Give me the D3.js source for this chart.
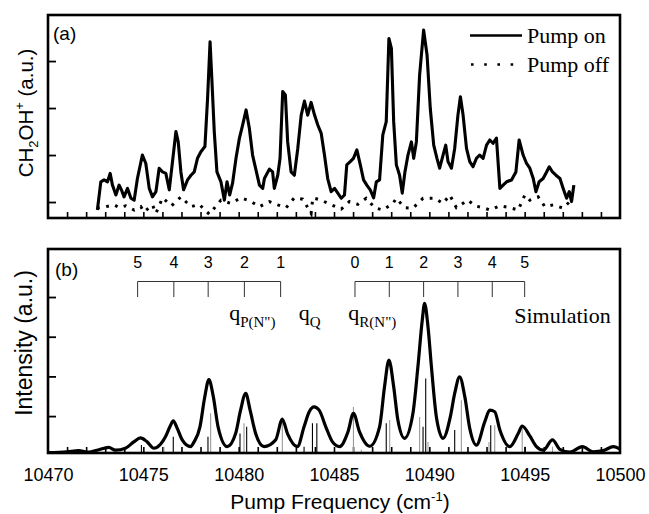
<!DOCTYPE html>
<html><head><meta charset="utf-8">
<script src="https://cdn.jsdelivr.net/npm/d3@7"></script>
<style>body{margin:0;background:#fff}svg{display:block}</style>
</head><body><svg id="c" width="649" height="514"></svg>
<script>
// ---------- DATA ----------
const xTickLabels = [10470,10475,10480,10485,10490,10495,10500];
const xMinorTicks = d3.range(10471,10500);
const yTopTicks = [0,1,2,3];
const yBotTicks = [1,2,3,4];

// experimental, pump on  [frequency, signal]
const pumpOn = [[10472.59,-0.17],[10472.77,0.43],[10472.94,0.47],[10473.12,0.43],[10473.26,0.61],[10473.38,0.36],[10473.56,0.15],[10473.73,0.36],[10473.85,0.26],[10473.99,0.11],[10474.17,0.29],[10474.35,0.08],[10474.52,0.04],[10474.69,0.50],[10474.95,1.00],[10475.13,0.82],[10475.31,0.29],[10475.48,0.11],[10475.66,0.22],[10475.83,0.72],[10476.01,0.64],[10476.18,0.61],[10476.36,0.26],[10476.53,0.86],[10476.71,1.50],[10476.83,1.28],[10476.97,0.64],[10477.11,0.26],[10477.32,0.47],[10477.50,0.57],[10477.67,0.64],[10477.84,0.93],[10478.02,1.07],[10478.23,1.18],[10478.37,2.21],[10478.50,3.41],[10478.60,2.56],[10478.72,1.50],[10478.86,0.64],[10479.07,0.43],[10479.25,0.04],[10479.39,0.43],[10479.53,0.15],[10479.68,0.40],[10479.86,0.93],[10480.04,1.36],[10480.21,1.64],[10480.39,1.96],[10480.56,1.57],[10480.73,1.00],[10480.91,0.68],[10481.09,0.36],[10481.26,0.29],[10481.35,0.50],[10481.61,0.70],[10481.78,0.64],[10481.87,0.29],[10482.05,0.57],[10482.17,0.93],[10482.31,2.35],[10482.45,2.28],[10482.57,1.28],[10482.75,0.64],[10482.92,0.57],[10483.10,1.14],[10483.28,1.85],[10483.45,2.15],[10483.62,1.85],[10483.80,2.12],[10483.98,1.85],[10484.15,1.64],[10484.33,1.46],[10484.50,1.00],[10484.67,0.50],[10484.85,0.22],[10485.03,0.29],[10485.20,0.19],[10485.38,0.08],[10485.55,0.15],[10485.67,0.79],[10485.85,0.86],[10486.02,0.93],[10486.20,1.11],[10486.38,0.79],[10486.55,0.47],[10486.72,0.36],[10486.90,0.26],[10487.08,0.09],[10487.22,0.43],[10487.39,0.47],[10487.56,1.43],[10487.74,1.71],[10487.88,3.48],[10488.01,3.27],[10488.13,1.71],[10488.27,0.79],[10488.44,0.57],[10488.58,0.19],[10488.72,0.64],[10488.88,1.00],[10489.06,1.28],[10489.18,0.93],[10489.32,1.28],[10489.49,2.70],[10489.70,3.66],[10489.88,3.13],[10490.05,1.99],[10490.23,1.21],[10490.40,0.93],[10490.54,0.72],[10490.72,1.00],[10490.86,1.21],[10490.98,0.86],[10491.16,0.72],[10491.33,1.14],[10491.50,1.85],[10491.63,2.24],[10491.77,1.85],[10491.95,1.14],[10492.12,0.86],[10492.29,0.75],[10492.47,0.93],[10492.64,1.00],[10492.82,0.93],[10493.00,1.21],[10493.17,1.32],[10493.34,1.25],[10493.52,1.36],[10493.70,0.29],[10493.87,0.36],[10494.05,0.43],[10494.31,0.47],[10494.54,0.64],[10494.71,1.32],[10494.92,1.00],[10495.10,0.82],[10495.27,0.72],[10495.45,0.50],[10495.59,0.22],[10495.76,0.43],[10495.97,0.50],[10496.15,0.64],[10496.29,0.75],[10496.46,0.64],[10496.64,0.57],[10496.85,0.50],[10497.02,0.29],[10497.20,0.08],[10497.34,0.22],[10497.46,0.01],[10497.58,0.36]];

// experimental, pump off
const pumpOff = [[10472.57,-0.13],[10473.03,-0.10],[10473.47,-0.06],[10473.73,-0.12],[10474.08,-0.08],[10474.52,-0.17],[10474.87,-0.10],[10475.04,-0.21],[10475.48,-0.06],[10475.66,-0.24],[10476.01,0.09],[10476.48,-0.08],[10476.97,0.11],[10477.50,-0.10],[10477.93,-0.05],[10478.46,-0.26],[10479.07,0.04],[10479.60,-0.03],[10480.12,0.09],[10480.65,0.01],[10481.09,-0.10],[10481.61,0.01],[10482.05,-0.06],[10482.49,-0.12],[10482.92,0.09],[10483.36,0.06],[10483.80,-0.24],[10483.89,0.09],[10484.33,0.04],[10484.85,-0.06],[10485.38,-0.15],[10485.81,0.01],[10486.25,-0.05],[10486.69,0.08],[10487.13,-0.12],[10487.56,-0.17],[10488.09,-0.03],[10488.27,0.08],[10488.70,-0.12],[10489.14,-0.13],[10489.67,0.08],[10490.28,0.08],[10490.72,-0.03],[10491.07,0.15],[10491.42,-0.12],[10492.03,0.04],[10492.38,-0.08],[10492.82,-0.12],[10493.17,-0.17],[10493.70,-0.08],[10494.22,-0.12],[10494.66,-0.17],[10495.01,0.15],[10495.27,0.04],[10495.71,0.11],[10496.06,-0.10],[10496.50,-0.06],[10497.02,-0.13],[10497.37,0.01]];

// simulated spectrum (envelope)
const simulation = [[10470.00,0.08],[10471.00,0.10],[10471.61,0.13],[10472.05,0.09],[10472.57,0.14],[10473.19,0.21],[10473.54,0.14],[10474.06,0.19],[10474.50,0.35],[10474.85,0.45],[10475.20,0.35],[10475.55,0.19],[10475.90,0.29],[10476.16,0.48],[10476.43,0.77],[10476.57,0.88],[10476.78,0.69],[10477.04,0.40],[10477.48,0.23],[10477.66,0.35],[10477.97,0.73],[10478.21,1.45],[10478.44,1.92],[10478.67,1.49],[10478.92,0.73],[10479.40,0.23],[10479.84,0.56],[10480.10,1.15],[10480.37,1.57],[10480.60,1.15],[10480.89,0.56],[10481.33,0.23],[10481.94,0.40],[10482.29,0.92],[10482.56,0.56],[10483.08,0.23],[10483.43,0.73],[10483.70,1.11],[10483.96,1.23],[10484.22,1.15],[10484.57,0.73],[10484.92,0.35],[10485.29,0.23],[10485.73,0.60],[10486.02,1.07],[10486.34,0.60],[10486.87,0.24],[10487.39,0.73],[10487.65,1.74],[10487.88,2.41],[10488.13,1.74],[10488.35,0.90],[10488.70,0.44],[10489.14,1.07],[10489.40,2.24],[10489.63,3.42],[10489.75,3.84],[10489.93,3.25],[10490.11,2.24],[10490.37,0.98],[10490.72,0.44],[10491.10,0.98],[10491.33,1.57],[10491.59,1.99],[10491.86,1.49],[10492.12,0.69],[10492.47,0.27],[10492.91,0.86],[10493.17,1.15],[10493.43,1.11],[10493.70,0.65],[10494.22,0.23],[10494.66,0.56],[10494.87,0.75],[10495.27,0.50],[10495.62,0.23],[10495.97,0.14],[10496.46,0.40],[10496.85,0.16],[10497.37,0.09],[10498.02,0.23],[10498.60,0.10],[10499.12,0.13],[10499.65,0.23],[10500.00,0.17]];

// stick spectrum
const sticksBlack = [[10474.90,0.27],[10476.57,0.48],[10478.39,0.48],[10480.07,0.56],[10480.42,0.73],[10483.43,0.23],[10483.87,0.82],[10484.10,0.82],[10487.74,0.82],[10489.67,0.73],[10489.81,1.95],[10491.33,0.65],[10493.22,0.77],[10495.01,0.23]];
const sticksGray = [[10476.08,0.23],[10478.53,1.07],[10480.28,0.82],[10482.29,0.98],[10486.02,1.23],[10486.43,0.15],[10487.92,0.90],[10489.49,0.98],[10489.93,0.35],[10491.68,1.40],[10493.13,0.35],[10493.43,0.77],[10494.87,0.73],[10496.46,0.23]];

// rotational assignment combs
const pBranchPos = [10474.7,10476.6,10478.4,10480.3,10482.2];
const pBranchLabels = ["5","4","3","2","1"];
const rBranchPos = [10486.1,10487.9,10489.7,10491.5,10493.3,10495.0];
const rBranchLabels = ["0","1","2","3","4","5"];

// ---------- CHART ----------
const svg = d3.select("#c");
const L = 48, R = 620;
const topP = {t:15, b:218}, botP = {t:249, b:453};
const x = d3.scaleLinear().domain([10470,10500]).range([L,R]);
const yTop = d3.scaleLinear().domain([-0.34,3.98]).range([topP.b, topP.t]);
const yBot = d3.scaleLinear().domain([0.07,5.21]).range([botP.b, botP.t]);
const sans = "'Liberation Sans', Arial, Helvetica, sans-serif";
const serif = "'Liberation Serif', 'Times New Roman', Times, serif";

function clip(id, p){
  svg.append("clipPath").attr("id", id).append("rect")
    .attr("x", L).attr("y", p.t).attr("width", R-L).attr("height", p.b-p.t);
}
clip("cTop", topP); clip("cBot", botP);

function ticks(p, yScale, yt){
  const g = svg.append("g").attr("transform", `translate(0,${p.b})`)
    .call(d3.axisBottom(x).tickValues(xMinorTicks).tickSize(-6).tickFormat(""));
  g.select(".domain").remove();
  g.selectAll("line").attr("stroke","#000").attr("stroke-width",1.6);
  const gy = svg.append("g").attr("transform", `translate(${L},0)`)
    .call(d3.axisLeft(yScale).tickValues(yt).tickSize(-8).tickFormat(""));
  gy.select(".domain").remove();
  gy.selectAll("line").attr("stroke","#000").attr("stroke-width",1.8);
}

// ----- top panel -----
ticks(topP, yTop, yTopTicks);
const lineTop = d3.line().x(d=>x(d[0])).y(d=>yTop(d[1]));
svg.append("path").datum(pumpOff).attr("clip-path","url(#cTop)")
  .attr("d", lineTop).attr("fill","none").attr("stroke","#000")
  .attr("stroke-width",3).attr("stroke-dasharray","2.8,6.5");
svg.append("path").datum(pumpOn).attr("clip-path","url(#cTop)")
  .attr("d", lineTop).attr("fill","none").attr("stroke","#000")
  .attr("stroke-width",3.1).attr("stroke-linejoin","round");
svg.append("rect").attr("x",L).attr("y",topP.t).attr("width",R-L).attr("height",topP.b-topP.t)
  .attr("fill","none").attr("stroke","#000").attr("stroke-width",2.6);

svg.append("text").attr("x",53).attr("y",40).attr("font-family",sans).attr("font-size",19).text("(a)");

// legend
svg.append("line").attr("x1",470).attr("x2",522).attr("y1",35.5).attr("y2",35.5)
  .attr("stroke","#000").attr("stroke-width",2.6);
svg.append("text").attr("x",527).attr("y",43).attr("font-family",serif).attr("font-size",22).text("Pump on");
svg.append("line").attr("x1",471).attr("x2",522).attr("y1",64.5).attr("y2",64.5)
  .attr("stroke","#000").attr("stroke-width",2.6).attr("stroke-dasharray","2.6,10.6");
svg.append("text").attr("x",527).attr("y",71.5).attr("font-family",serif).attr("font-size",22).text("Pump off");

// y title top
const tt = svg.append("text").attr("transform","translate(33,113) rotate(-90)")
  .attr("text-anchor","middle").attr("font-family",sans).attr("font-size",20.5);
tt.append("tspan").text("CH");
tt.append("tspan").attr("font-size",13).attr("dy",5).text("2");
tt.append("tspan").attr("dy",-5).text("OH");
tt.append("tspan").attr("font-size",13).attr("dy",-9).text("+");
tt.append("tspan").attr("dy",9).text(" (a.u.)");

// ----- bottom panel -----
ticks(botP, yBot, yBotTicks);
const gS = svg.append("g").attr("clip-path","url(#cBot)");
gS.selectAll("line.g").data(sticksGray).join("line").attr("class","g")
  .attr("x1",d=>x(d[0])).attr("x2",d=>x(d[0]))
  .attr("y1",yBot(0.07)).attr("y2",d=>yBot(d[1]))
  .attr("stroke","#9a9a9a").attr("stroke-width",1.1);
gS.selectAll("line.b").data(sticksBlack).join("line").attr("class","b")
  .attr("x1",d=>x(d[0])).attr("x2",d=>x(d[0]))
  .attr("y1",yBot(0.07)).attr("y2",d=>yBot(d[1]))
  .attr("stroke","#000").attr("stroke-width",1.1);
const lineBot = d3.line().x(d=>x(d[0])).y(d=>yBot(d[1])).curve(d3.curveMonotoneX);
svg.append("path").datum(simulation).attr("clip-path","url(#cBot)")
  .attr("d", lineBot).attr("fill","none").attr("stroke","#000")
  .attr("stroke-width",3.2).attr("stroke-linejoin","round");
svg.append("rect").attr("x",L).attr("y",botP.t).attr("width",R-L).attr("height",botP.b-botP.t)
  .attr("fill","none").attr("stroke","#000").attr("stroke-width",2.6);

svg.append("text").attr("x",55).attr("y",276).attr("font-family",sans).attr("font-size",19).text("(b)");

// combs
function comb(pos, labels){
  const yLine = 281.5, yEnd = yBot(4);
  const g = svg.append("g");
  g.append("line").attr("x1",x(pos[0])).attr("x2",x(pos[pos.length-1]))
    .attr("y1",yLine).attr("y2",yLine).attr("stroke","#333").attr("stroke-width",1);
  g.selectAll("line.t").data(pos).join("line").attr("class","t")
    .attr("x1",d=>x(d)).attr("x2",d=>x(d)).attr("y1",yLine).attr("y2",yEnd)
    .attr("stroke","#333").attr("stroke-width",1);
  g.selectAll("text").data(pos).join("text")
    .attr("x",d=>x(d)).attr("y",267.5).attr("text-anchor","middle")
    .attr("font-family",sans).attr("font-size",16).text((d,i)=>labels[i]);
}
comb(pBranchPos, pBranchLabels);
comb(rBranchPos, rBranchLabels);

function qLabel(f, sub){
  const t = svg.append("text").attr("x",x(f)).attr("y",320).attr("font-family",serif).attr("font-size",22);
  t.append("tspan").text("q");
  t.append("tspan").attr("font-size",15).attr("dy",7).text(sub);
}
qLabel(10479.5, "P(N\")");
qLabel(10483.15, "Q");
qLabel(10485.75, "R(N\")");
svg.append("text").attr("x",x(10494.45)).attr("y",323).attr("font-family",serif).attr("font-size",22).text("Simulation");

// x tick labels
const gx = svg.append("g").attr("transform",`translate(0,${botP.b})`)
  .call(d3.axisBottom(x).tickValues(xTickLabels).tickSize(0).tickFormat(d3.format("d")));
gx.select(".domain").remove();
gx.selectAll("text").attr("y",27.5).attr("dy",null).attr("font-family",sans).attr("font-size",18).attr("fill","#000");

// x title
const xt = svg.append("text").attr("x",340).attr("y",509).attr("text-anchor","middle")
  .attr("font-family",sans).attr("font-size",21);
xt.append("tspan").text("Pump Frequency (cm");
xt.append("tspan").attr("font-size",13).attr("dy",-8).text("-1");
xt.append("tspan").attr("dy",8).text(")");

// y title bottom
svg.append("text").attr("transform","translate(32,343) rotate(-90)")
  .attr("text-anchor","middle").attr("font-family",sans).attr("font-size",23).text("Intensity (a.u.)");
</script>
</body></html>
